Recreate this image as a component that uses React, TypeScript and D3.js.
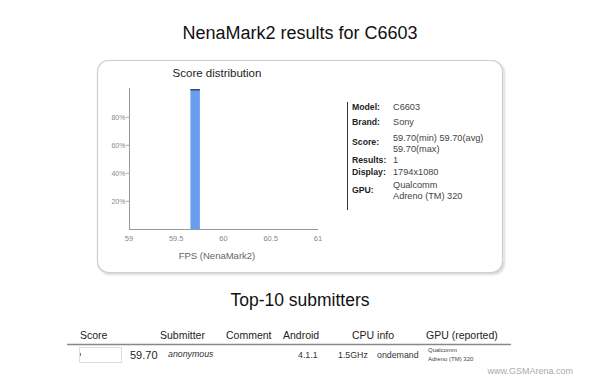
import React from "react";
import * as d3 from "d3";

const binStarts = [59.65];
const binEnds = [59.75];
const binShares = [100];
const xTicks = [59, 59.5, 60, 60.5, 61];
const xTickLabels = ["59", "59.5", "60", "60.5", "61"];
const yTicks = [20, 40, 60, 80];

const infoLabels = ["Model:", "Brand:", "Score:", "Results:", "Display:", "GPU:"];
const infoValues = [
  ["C6603"],
  ["Sony"],
  ["59.70(min) 59.70(avg)", "59.70(max)"],
  ["1"],
  ["1794x1080"],
  ["Qualcomm", "Adreno (TM) 320"],
];

const tableHeaders = ["Score", "Submitter", "Comment", "Android", "CPU info", "GPU (reported)"];
const rowScore = "59.70";
const rowSubmitter = "anonymous";
const rowAndroid = "4.1.1";
const rowCpu = ["1.5GHz", "ondemand"];
const rowGpu = ["Qualcomm", "Adreno (TM) 320"];

export default function App() {
  const W = 599, H = 381;
  const x = d3.scaleLinear().domain([59, 61]).range([129, 318]);
  const y = d3.scaleLinear().domain([0, 100]).range([229.3, 89.3]);
  const font = "Arial, 'Liberation Sans', sans-serif";

  const infoY = [106.7, 122, 141.7, 160, 171.7, 190];
  const infoValY = [[106.7], [122], [137.5, 148.5], [160], [171.7], [184.5, 195.5]];
  const headerX = [80, 160, 226, 283, 352, 426];

  return (
    <svg width={W} height={H} style={{ position: "absolute", left: 0, top: 0 }} fontFamily={font}>
      <defs>
        <filter id="sh" x="-5%" y="-5%" width="112%" height="115%">
          <feDropShadow dx="1.5" dy="1.5" stdDeviation="1.2" floodColor="#000" floodOpacity="0.18" />
        </filter>
      </defs>
      <rect width={W} height={H} fill="#fff" />
      <text x={300} y={39} textAnchor="middle" fontSize={18} fill="#111">NenaMark2 results for C6603</text>

      <rect x={97.5} y={60.5} width={405} height={212} rx={11} fill="#fff" stroke="#cfcfcf" strokeWidth={1.2} filter="url(#sh)" />

      <text x={217} y={77} textAnchor="middle" fontSize={11.5} fill="#222">Score distribution</text>

      {binStarts.map((s, i) => (
        <g key={i}>
          <rect x={x(s)} y={y(binShares[i])} width={x(binEnds[i]) - x(s)} height={y(0) - y(binShares[i])} fill="#6a9cf0" />
          <line x1={x(s)} x2={x(binEnds[i])} y1={y(binShares[i]) + 0.5} y2={y(binShares[i]) + 0.5} stroke="#1f2d55" strokeWidth={1.2} />
        </g>
      ))}

      <line x1={129.5} x2={129.5} y1={88} y2={229.5} stroke="#999" strokeWidth={1} />
      <line x1={129} x2={318} y1={229.5} y2={229.5} stroke="#999" strokeWidth={1} />
      {yTicks.map((t) => (
        <g key={t}>
          <line x1={126} x2={129} y1={y(t)} y2={y(t)} stroke="#aaa" />
          <text x={125.5} y={y(t) + 2.5} textAnchor="end" fontSize={7} fill="#888">{t}%</text>
        </g>
      ))}
      {xTicks.map((t, i) => (
        <text key={t} x={x(t)} y={240.5} textAnchor="middle" fontSize={7.5} fill="#888">{xTickLabels[i]}</text>
      ))}
      <text x={217} y={258.5} textAnchor="middle" fontSize={9.5} fill="#666">FPS (NenaMark2)</text>

      <line x1={347.5} x2={347.5} y1={102} y2={210} stroke="#333" strokeWidth={1} />
      {infoLabels.map((l, i) => (
        <text key={l} x={352} y={infoY[i] + 3} fontSize={8.7} fontWeight="bold" fill="#222">{l}</text>
      ))}
      {infoValues.map((vals, i) =>
        vals.map((v, j) => (
          <text key={i + "-" + j} x={393} y={infoValY[i][j] + 3} fontSize={9.2} fill="#444">{v}</text>
        ))
      )}

      <text x={300} y={306} textAnchor="middle" fontSize={17.5} fill="#111">Top-10 submitters</text>

      {tableHeaders.map((h, i) => (
        <text key={h} x={headerX[i]} y={339} fontSize={10.5} fill="#222">{h}</text>
      ))}
      <line x1={67} x2={511} y1={344.5} y2={344.5} stroke="#888" strokeWidth={1.6} />
      <rect x={79.5} y={347.5} width={42} height={15} fill="#fff" stroke="#ddd" />
      <line x1={80.5} x2={80.5} y1={353} y2={356} stroke="#777" />
      <text x={130} y={358.5} fontSize={11} fill="#222">{rowScore}</text>
      <text x={168} y={357} fontSize={8.8} fontStyle="italic" fill="#333">{rowSubmitter}</text>
      <text x={298} y={357.5} fontSize={8.8} fill="#333">{rowAndroid}</text>
      <text x={338} y={357.5} fontSize={8.8} fill="#333">{rowCpu[0]}</text>
      <text x={377} y={357.5} fontSize={8.8} fill="#333">{rowCpu[1]}</text>
      <text x={428} y={352} fontSize={6} fill="#444">{rowGpu[0]}</text>
      <text x={428} y={361} fontSize={6} fill="#444">{rowGpu[1]}</text>

      <text x={573} y={374} textAnchor="end" fontSize={9} fill="#aaa">www.GSMArena.com</text>
    </svg>
  );
}
